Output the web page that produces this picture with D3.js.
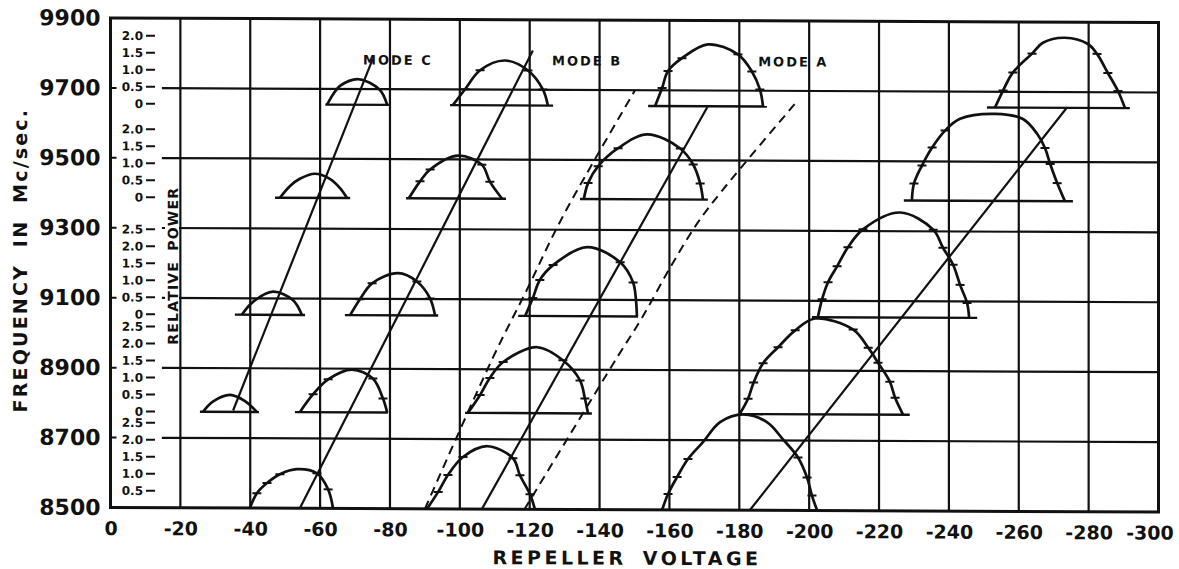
<!DOCTYPE html>
<html>
<head>
<meta charset="utf-8">
<script src="https://cdn.jsdelivr.net/npm/d3@7"></script>
<style>
  body { margin: 0; background: #fff; }
  text { font-family: "DejaVu Sans", sans-serif; font-weight: bold; fill: #111; }
</style>
</head>
<body>
<svg id="chart" width="1179" height="569"></svg>
<script>
// axis ticks
const voltTicks = [0, -20, -40, -60, -80, -100, -120, -140, -160, -180, -200, -220, -240, -260, -280, -300];
const freqTicks = [8500, 8700, 8900, 9100, 9300, 9500, 9700, 9900];

// base frequency (zero power) of each row of power curves
const rowBase = [9655, 9388, 9053, 8775, 8500];
// relative power labels shown for each row
const powerTicks = [
  [0, 0.5, 1.0, 1.5, 2.0],
  [0, 0.5, 1.0, 1.5, 2.0],
  [0, 0.5, 1.0, 1.5, 2.0, 2.5],
  [0, 0.5, 1.0, 1.5, 2.0, 2.5],
  [0.5, 1.0, 1.5, 2.0, 2.5]
];

// which row each power curve sits on
const curveRow = [0, 0, 0, 0, 1, 1, 1, 1, 2, 2, 2, 2, 3, 3, 3, 3, 4, 4, 4];
// base line extent of each curve (volts)
const baseSpan = [
  [-61.5, -80], [-97.2, -126.7], [-153.9, -187.9], [-250.9, -291.8],
  [-47.1, -68.6], [-84.6, -113.2], [-134.4, -171], [-227.1, -275.5],
  [-35.6, -55.7], [-67.1, -93.8], [-116.7, -151], [-200.8, -248.1],
  [-25.6, -42.5], [-52.8, -79.4], [-101.5, -137.8], [-180.1, -228.8],
  null, null, null
];
// [repeller volts, relative power, measured point marker]
const curvePoints = [
  [[-62, 0], [-63.7, 0.3], [-65.7, 0.55], [-71, 0.75], [-77, 0.45], [-79.2, 0]],
  [[-98, 0], [-101.5, 0.47, 1], [-105.8, 1.03, 1], [-112.9, 1.32], [-119.5, 1.03, 1], [-123.8, 0.47, 1], [-125.2, 0]],
  [[-155.9, 0], [-157.9, 0.53, 1], [-159.6, 1.03, 1], [-163.6, 1.41, 1], [-171, 1.82], [-179.6, 1.53, 1], [-183.6, 1.03, 1], [-185.9, 0.5, 1], [-186.8, 0]],
  [[-253.2, 0], [-255.5, 0.5, 1], [-258.3, 1.03, 1], [-263.8, 1.59, 1], [-266.9, 1.91], [-273.2, 2.06], [-279.8, 1.88], [-282.4, 1.59, 1], [-285.5, 1.03, 1], [-288.4, 0.5, 1], [-290.4, 0]],

  [[-48.5, 0], [-51.4, 0.35], [-54.2, 0.56], [-58.5, 0.71], [-62.8, 0.56], [-65.7, 0.29], [-67.7, 0]],
  [[-85.4, 0], [-88.6, 0.5, 1], [-91.5, 0.85, 1], [-99.5, 1.26], [-106.3, 1.0, 1], [-108.6, 0.5, 1], [-112.1, 0]],
  [[-135.5, 0], [-136.7, 0.47, 1], [-139.6, 0.97, 1], [-145.3, 1.5, 1], [-153.6, 1.91], [-163.1, 1.5, 1], [-166.8, 1.03, 1], [-168.8, 0.47, 1], [-169.6, 0]],
  [[-229.4, 0], [-230, 0.5, 1], [-232.3, 1.03, 1], [-235.2, 1.56, 1], [-238.9, 2.06, 1], [-243.2, 2.41], [-253.2, 2.56], [-261.2, 2.41], [-265.3, 1.97], [-267.5, 1.56, 1], [-269, 1.09, 1], [-271, 0.53, 1], [-273.2, 0]],

  [[-37.6, 0], [-40.8, 0.38], [-46.5, 0.68], [-52.2, 0.44], [-54.8, 0]],
  [[-68.6, 0], [-71.4, 0.47, 1], [-74.9, 0.94, 1], [-82.3, 1.24], [-87.7, 1.0, 1], [-91.5, 0.5, 1], [-92.9, 0]],
  [[-118.7, 0], [-120.9, 0.53, 1], [-122.9, 1.06, 1], [-126.7, 1.5, 1], [-136.4, 2.03], [-145.9, 1.59, 1], [-149.6, 1.0, 1], [-150.4, 0.5], [-150.7, 0]],
  [[-202.5, 0], [-203.7, 0.53, 1], [-205.4, 1.03, 1], [-208, 1.5, 1], [-211.1, 2.06, 1], [-215.4, 2.59, 1], [-226, 3.09], [-235.5, 2.59, 1], [-238.3, 2.06, 1], [-241.2, 1.56, 1], [-243.2, 0.97, 1], [-245.2, 0.44, 1], [-245.8, 0]],

  [[-26.5, 0], [-29.3, 0.3], [-34.2, 0.5], [-38.5, 0.32], [-41.9, 0]],
  [[-54.2, 0], [-58, 0.53, 1], [-62.3, 0.97, 1], [-69.1, 1.26], [-75.1, 1.0, 1], [-78, 0.41, 1], [-79.2, 0]],
  [[-102.3, 0], [-105.8, 0.53, 1], [-108.6, 1.03, 1], [-112.4, 1.5, 1], [-122.1, 1.94], [-129.5, 1.56, 1], [-134.4, 0.97, 1], [-135.8, 0.44, 1], [-136.7, 0]],
  [[-180.1, 0], [-182.5, 0.45, 1], [-184.1, 0.93, 1], [-186.8, 1.5, 1], [-191.1, 1.97, 1], [-196, 2.47, 1], [-201.7, 2.82], [-212.6, 2.5, 1], [-216.9, 1.97, 1], [-219.7, 1.53, 1], [-223.1, 0.97, 1], [-224.6, 0.5, 1], [-226.9, 0]],

  [[-39.9, 0], [-41.9, 0.44, 1], [-44.8, 0.74, 1], [-48.5, 1.0, 1], [-53.4, 1.15], [-59.1, 1.03, 1], [-62.3, 0.56, 1], [-63.7, 0]],
  [[-90.6, 0], [-93.8, 0.5, 1], [-96.6, 1.0, 1], [-100.9, 1.53, 1], [-107.8, 1.85], [-115.2, 1.5, 1], [-117.2, 1.0, 1], [-120.1, 0.44, 1], [-121.5, 0]],
  [[-157.9, 0], [-159.6, 0.47, 1], [-162.2, 0.97, 1], [-165.3, 1.5, 1], [-169.6, 2.0], [-174.5, 2.59], [-181.1, 2.82], [-188, 2.59], [-192.5, 2.09], [-196.8, 1.56, 1], [-199.4, 0.97, 1], [-200.8, 0.44, 1], [-202.3, 0]]
];

// mode lines [volts, Mc/sec]
const modeLines = [
  [[-35.1, 8779], [-75.1, 9787]],
  [[-54.2, 8500], [-120.9, 9812]],
  [[-106.3, 8500], [-171.1, 9657]],
  [[-183, 8500], [-273.8, 9656]]
];
// dashed boundary curves
const dashedLines = [
  [[-90, 8500], [-109.5, 8934], [-119.5, 9134], [-127.5, 9300], [-134, 9420], [-150.1, 9699]],
  [[-118.5, 8500], [-145, 8935], [-152.2, 9050], [-160.2, 9193], [-167.9, 9319], [-175.1, 9414], [-196, 9664]]
];
const modeLabels = ["MODE C", "MODE B", "MODE A"];
const modeLabelPos = [[-72.3, 9770], [-126.4, 9770], [-185.4, 9770]];

const svg = d3.select("#chart");
const ink = "#111";

const x = d3.scaleLinear().domain([0, -300]).range([110.5, 1158.5]);
const y = d3.scaleLinear().domain([8500, 9900]).range([507, 17.5]);
const p = d3.scaleLinear().domain([0, 1]).range([0, 34]);

// the scanned page is slightly tilted
const g = svg.append("g").attr("transform", "skewY(0.25)");

// grid
g.append("g").selectAll("line")
  .data(voltTicks.slice(1, -1))
  .enter().append("line")
  .attr("x1", d => x(d)).attr("x2", d => x(d))
  .attr("y1", y(9900)).attr("y2", y(8500))
  .attr("stroke", ink).attr("stroke-width", 2.2);

g.append("g").selectAll("line")
  .data(freqTicks.slice(1, -1))
  .enter().append("line")
  .attr("x1", x(-14.7)).attr("x2", x(-300))
  .attr("y1", d => y(d)).attr("y2", d => y(d))
  .attr("stroke", ink).attr("stroke-width", 2.2);

g.append("g").selectAll("line")
  .data(freqTicks.slice(1, -1))
  .enter().append("line")
  .attr("x1", x(0)).attr("x2", x(0) + 6)
  .attr("y1", d => y(d)).attr("y2", d => y(d))
  .attr("stroke", ink).attr("stroke-width", 2);

// frame
g.append("rect")
  .attr("x", x(0)).attr("y", y(9900))
  .attr("width", x(-300) - x(0)).attr("height", y(8500) - y(9900))
  .attr("fill", "none").attr("stroke", ink).attr("stroke-width", 3);

// axes
const xAxis = g.append("g")
  .attr("transform", `translate(0,${y(8500)})`)
  .call(d3.axisBottom(x).tickValues(voltTicks).tickSize(0).tickPadding(14).tickFormat(d => String(d)));
xAxis.select(".domain").remove();
xAxis.selectAll("text").style("font-family", "'DejaVu Sans', sans-serif")
  .style("font-weight", "bold").style("font-size", "19px").attr("fill", ink)
  .attr("dx", d => d === -300 ? -9 : 0);

const yAxis = g.append("g")
  .attr("transform", `translate(${x(0)},0)`)
  .call(d3.axisLeft(y).tickValues(freqTicks).tickSize(0).tickPadding(10).tickFormat(d => String(d)));
yAxis.select(".domain").remove();
yAxis.selectAll("text").style("font-family", "'DejaVu Sans', sans-serif")
  .style("font-weight", "bold").style("font-size", "22px").attr("fill", ink);

// relative power scales
powerTicks.forEach((ticks, r) => {
  const row = g.append("g");
  ticks.forEach(t => {
    const yy = y(rowBase[r]) - p(t);
    row.append("text")
      .attr("x", 143).attr("y", yy).attr("dy", "0.36em")
      .attr("text-anchor", "end").style("font-size", "12px")
      .text(t === 0 ? "0" : t.toFixed(1));
    row.append("line")
      .attr("x1", 146).attr("x2", 155).attr("y1", yy).attr("y2", yy)
      .attr("stroke", ink).attr("stroke-width", 2);
  });
});

g.append("rect").attr("x", 165).attr("y", 185).attr("width", 14).attr("height", 160).attr("fill", "#fff");
g.append("text")
  .attr("transform", "translate(178,265) rotate(-90)")
  .attr("text-anchor", "middle")
  .style("font-size", "14px").style("letter-spacing", "1.2px").style("word-spacing", "4px")
  .text("RELATIVE POWER");

// power curves
curvePoints.forEach((pts, i) => {
  const base = rowBase[curveRow[i]];
  const cy = d => y(base) - p(d[1]);
  const line = d3.line().x(d => x(d[0])).y(cy).curve(d3.curveCatmullRom.alpha(0.5));
  const cg = g.append("g");
  if (baseSpan[i]) {
    cg.append("line")
      .attr("x1", x(baseSpan[i][0])).attr("x2", x(baseSpan[i][1]))
      .attr("y1", y(base)).attr("y2", y(base))
      .attr("stroke", ink).attr("stroke-width", 2.4);
  }
  cg.append("path").attr("d", line(pts))
    .attr("fill", "none").attr("stroke", ink).attr("stroke-width", 2.7);
  cg.selectAll("line.tick")
    .data(pts.filter(d => d[2]))
    .enter().append("line").attr("class", "tick")
    .attr("x1", d => x(d[0]) - 4.5).attr("x2", d => x(d[0]) + 4.5)
    .attr("y1", cy).attr("y2", cy)
    .attr("stroke", ink).attr("stroke-width", 2);
});

// mode lines
const straight = d3.line().x(d => x(d[0])).y(d => y(d[1]));
g.append("g").selectAll("path")
  .data(modeLines)
  .enter().append("path")
  .attr("d", straight)
  .attr("fill", "none").attr("stroke", ink).attr("stroke-width", 2.2);

const smooth = d3.line().x(d => x(d[0])).y(d => y(d[1])).curve(d3.curveCatmullRom.alpha(0.5));
g.append("g").selectAll("path")
  .data(dashedLines)
  .enter().append("path")
  .attr("d", smooth)
  .attr("fill", "none").attr("stroke", ink).attr("stroke-width", 2)
  .attr("stroke-dasharray", "9,6");

g.append("g").selectAll("text")
  .data(modeLabels)
  .enter().append("text")
  .attr("x", (d, i) => x(modeLabelPos[i][0]))
  .attr("y", (d, i) => y(modeLabelPos[i][1]))
  .style("font-size", "13px").style("letter-spacing", "2px")
  .text(d => d);

// axis titles
g.append("text")
  .attr("x", 627).attr("y", 562)
  .attr("text-anchor", "middle")
  .style("font-size", "19px").style("letter-spacing", "3.5px").style("word-spacing", "6px")
  .text("REPELLER VOLTAGE");

g.append("text")
  .attr("transform", "translate(27,260) rotate(-90)")
  .attr("text-anchor", "middle")
  .style("font-size", "19px").style("letter-spacing", "2.2px").style("word-spacing", "8px")
  .text("FREQUENCY IN Mc/sec.");
</script>
</body>
</html>
